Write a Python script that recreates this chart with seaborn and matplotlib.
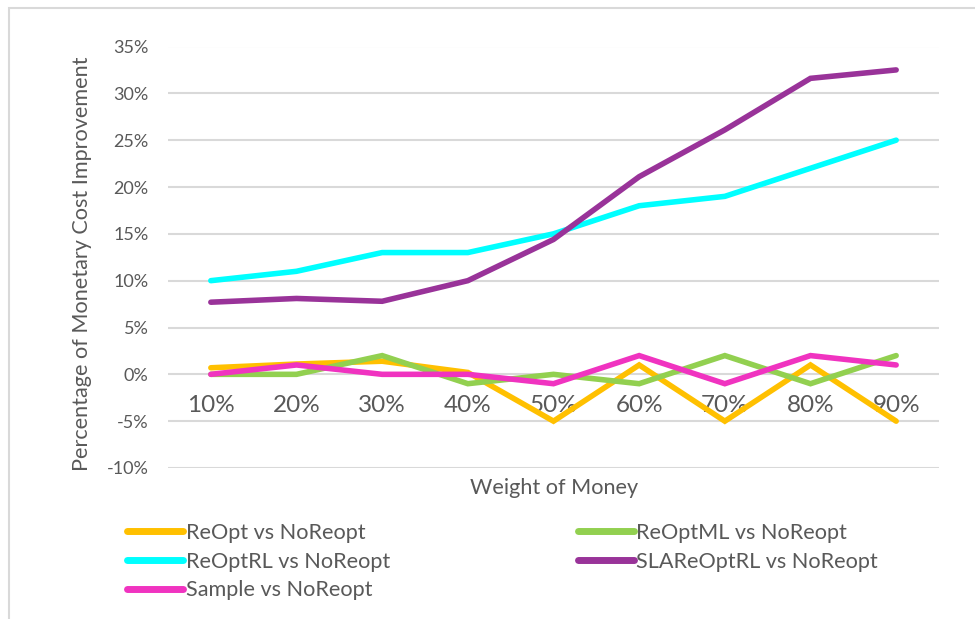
import matplotlib
matplotlib.use("Agg")
import matplotlib.pyplot as plt
from matplotlib.patches import Rectangle
from matplotlib.lines import Line2D
from matplotlib.ticker import FuncFormatter, MultipleLocator
import seaborn as sns
import pandas as pd

# Weight of money (categories on the x axis)
weights = ["10%", "20%", "30%", "40%", "50%", "60%", "70%", "80%", "90%"]

# Percentage of monetary cost improvement for each comparison
reopt = [0.7, 1.1, 1.4, 0.2, -5, 1, -5, 1, -5]
reopt_ml = [0, 0, 2, -1, 0, -1, 2, -1, 2]
reopt_rl = [10, 11, 13, 13, 15, 18, 19, 22, 25]
sla_reopt_rl = [7.7, 8.1, 7.8, 10.0, 14.4, 21.1, 26.1, 31.6, 32.5]
sample = [0, 1, 0, 0, -1, 2, -1, 2, 1]

series_names = ["ReOpt vs NoReopt", "ReOptML vs NoReopt", "ReOptRL vs NoReopt",
                "SLAReOptRL vs NoReopt", "Sample vs NoReopt"]
series_values = [reopt, reopt_ml, reopt_rl, sla_reopt_rl, sample]
colors = ["#FFC000", "#92D050", "#00FFFF", "#993399", "#F033C0"]

rows = []
for name, vals in zip(series_names, series_values):
    for w, v in zip(weights, vals):
        rows.append({"weight": w, "value": v, "series": name})
df = pd.DataFrame(rows)

sns.set_theme(style="white")
plt.rcParams["font.family"] = ["Lato", "DejaVu Sans"]
text_color = "#595959"
grid_color = "#D9D9D9"

W, H = 975, 619
fig = plt.figure(figsize=(W / 100, H / 100), dpi=100)
fig.patch.set_facecolor("white")

# plot area in pixel coordinates
left, right, top, bottom = 168, 939, 46.5, 468
ax = fig.add_axes([left / W, (H - bottom) / H, (right - left) / W, (bottom - top) / H])

sns.lineplot(data=df, x="weight", y="value", hue="series", hue_order=series_names,
             palette=colors, linewidth=4.0, sort=False, legend=False, ax=ax,
             solid_capstyle="round", solid_joinstyle="miter")

ax.set_xlim(-0.5, len(weights) - 0.5)
ax.set_ylim(-10, 35)
ax.yaxis.set_major_locator(MultipleLocator(5))
ax.yaxis.set_major_formatter(FuncFormatter(lambda v, p: f"{v:.0f}%"))
ax.grid(axis="y", color=grid_color, linewidth=1.5)
ax.set_axisbelow(True)
for s in ax.spines.values():
    s.set_visible(False)

# category axis crosses at zero, labels sit just below it
ax.spines["bottom"].set_position(("data", 0))
ax.tick_params(axis="x", length=0, pad=15, labelsize=17.5, labelcolor=text_color)
ax.tick_params(axis="y", length=0, pad=14, labelsize=13, labelcolor=text_color)
ax.set_xlabel("")
ax.set_ylabel("")

fig.text(82 / W, 1 - 264 / H, "Percentage of Monetary Cost Improvement", rotation=90,
         ha="center", va="center", fontsize=15.6, color=text_color)
fig.text(554 / W, 1 - 488 / H, "Weight of Money", ha="center", va="center",
         fontsize=15.6, color=text_color)

# legend in two columns
def handle(c):
    return Line2D([0], [0], color=c, linewidth=5, solid_capstyle="round")

leg_kw = dict(frameon=False, fontsize=15.6, labelcolor=text_color, handlelength=2.6,
              handletextpad=0.1, labelspacing=0.4, borderaxespad=0, borderpad=0)
leg1 = fig.legend([handle(colors[i]) for i in (0, 2, 4)],
                  [series_names[i] for i in (0, 2, 4)],
                  loc="upper left", bbox_to_anchor=(127 / W, 1 - 523 / H), **leg_kw)
leg2 = fig.legend([handle(colors[i]) for i in (1, 3)],
                  [series_names[i] for i in (1, 3)],
                  loc="upper left", bbox_to_anchor=(578 / W, 1 - 523 / H), **leg_kw)

# light chart-area border
fig.patches.append(Rectangle((9 / W, -0.1), 1.2, (H - 8) / H + 0.1, transform=fig.transFigure,
                             fill=False, edgecolor=grid_color, linewidth=1.5))

fig.savefig("out.png", dpi=100, facecolor="white")
